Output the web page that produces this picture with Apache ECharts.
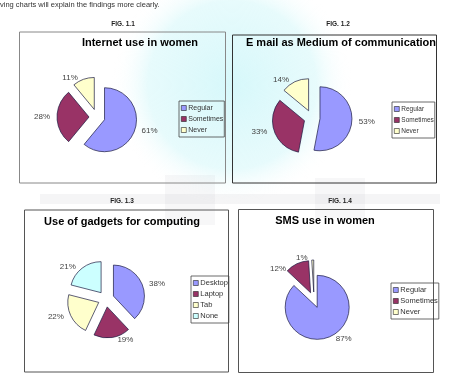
<!DOCTYPE html>
<html lang="en">
<head>
  <meta charset="UTF-8">
  <script src="https://cdn.jsdelivr.net/npm/echarts@6/dist/echarts.min.js"></script>
  <style>
    html, body { margin: 0; padding: 0; background: #fff; }
  </style>
</head>
<body>
  <div id="main" style="width: 476px;height:384px;"></div>
  <script type="text/javascript">

    // data (percent of respondents)
    const useNames = ['Regular', 'Sometimes', 'Never'];
    const internetValues = [61, 28, 11];
    const emailValues = [53, 33, 14];
    const smsValues = [87, 12, 1];
    const gadgetNames = ['Desktop', 'Laptop', 'Tab', 'None'];
    const gadgetValues = [38, 19, 22, 21];

    const titles = [
      'Internet use in women',
      'E mail as Medium of communication',
      'Use of gadgets for computing',
      'SMS use in women'
    ];
    const figLabels = ['FIG. 1.1', 'FIG. 1.2', 'FIG. 1.3', 'FIG. 1.4'];

    // old excel palette
    const colors = {
      Regular: '#9999ff', Sometimes: '#993366', Never: '#ffffcc',
      Desktop: '#9999ff', Laptop: '#993366', Tab: '#ffffcc', None: '#ccffff'
    };

    function toData(names, values) {
      return names.map(function (n, i) {
        return { name: n, value: values[i], selected: true, itemStyle: { color: colors[n] } };
      });
    }

    function pie(name, names, values, center, radius) {
      return {
        name: name,
        type: 'pie',
        center: center,
        radius: radius,
        startAngle: 90,
        clockwise: true,
        selectedMode: 'multiple',
        selectedOffset: 8,
        animation: false,
        emphasis: { disabled: true },
        itemStyle: { borderColor: '#1a1a40', borderWidth: 0.7 },
        label: {
          show: true,
          position: 'outside',
          formatter: '{c}%',
          color: '#444',
          fontSize: 8,
          fontFamily: 'Liberation Sans, Arial'
        },
        labelLine: { show: false, length: 2, length2: 0 },
        data: toData(names, values)
      };
    }

    function legend(names, left, top, fontSize) {
      return {
        data: names,
        orient: 'vertical',
        left: left,
        top: top,
        itemWidth: 5,
        itemHeight: 5,
        itemGap: 3,
        padding: [3, 1, 3, 2],
        borderColor: '#444',
        borderWidth: 0.8,
        selectedMode: false,
        icon: 'rect',
        itemStyle: { borderColor: '#222', borderWidth: 0.6 },
        textStyle: {
          fontSize: fontSize,
          lineHeight: 8,
          color: '#333',
          padding: [0, 0, 0, -3],
          fontFamily: 'Liberation Sans, Arial'
        }
      };
    }

    // boxes round each chart
    const boxes = [
      [19.5, 32, 206, 151, '#888'],
      [232.5, 35, 204, 148, '#333'],
      [24.5, 210, 204, 162, '#555'],
      [238.5, 209.5, 195, 163, '#555']
    ];
    const titlePos = [[140, 43], [341, 43], [122, 222], [325, 221]];
    const figPos = [[123, 24], [338, 24], [122, 201], [340, 201]];

    const graphics = [
      // faint watermark behind the page
      {
        type: 'ellipse', z: -10, silent: true,
        shape: { cx: 232, cy: 85, rx: 120, ry: 140 },
        style: {
          fill: new echarts.graphic.RadialGradient(0.5, 0.5, 0.5, [
            { offset: 0, color: 'rgba(210,247,250,0.9)' },
            { offset: 0.7, color: 'rgba(215,248,250,0.6)' },
            { offset: 1, color: 'rgba(255,255,255,0)' }
          ])
        }
      },
      { type: 'rect', z: -10, silent: true, shape: { x: 40, y: 194, width: 400, height: 10 },
        style: { fill: 'rgba(200,200,205,0.18)' } },
      { type: 'rect', z: -10, silent: true, shape: { x: 165, y: 175, width: 50, height: 50 },
        style: { fill: 'rgba(190,190,200,0.12)' } },
      { type: 'rect', z: -10, silent: true, shape: { x: 315, y: 178, width: 50, height: 40 },
        style: { fill: 'rgba(190,190,200,0.12)' } },
      {
        type: 'text', left: 0, top: 1,
        style: { text: 'ving charts will explain the findings more clearly.', fontSize: 7.5, fill: '#333', fontFamily: 'Liberation Sans, Arial' }
      }
    ];
    boxes.forEach(function (b) {
      graphics.push({
        type: 'rect', silent: true,
        shape: { x: b[0], y: b[1], width: b[2], height: b[3] },
        style: { fill: 'none', stroke: b[4], lineWidth: 1 }
      });
    });
    titles.forEach(function (t, i) {
      graphics.push({
        type: 'text', silent: true, x: titlePos[i][0], y: titlePos[i][1],
        style: { text: t, fontSize: 11, fontWeight: 'bold', fill: '#000', align: 'center', verticalAlign: 'middle', fontFamily: 'Liberation Sans, Arial' }
      });
    });
    figLabels.forEach(function (t, i) {
      graphics.push({
        type: 'text', silent: true, x: figPos[i][0], y: figPos[i][1],
        style: { text: t, fontSize: 6.5, fontWeight: 'bold', fill: '#222', align: 'center', verticalAlign: 'middle', fontFamily: 'Liberation Sans, Arial' }
      });
    });

    const myChart = echarts.init(document.getElementById('main'));
    myChart.setOption({
      animation: false,
      legend: [
        legend(useNames, 179, 101, 7),
        legend(useNames, 392, 102, 6.5),
        legend(gadgetNames, 191, 276, 7.5),
        legend(useNames, 391, 283, 7.5)
      ],
      graphic: graphics,
      series: [
        pie('Internet', useNames, internetValues, [97, 117], 32),
        pie('Email', useNames, emailValues, [312, 118], 32),
        pie('Gadgets', gadgetNames, gadgetValues, [106, 299], 31),
        pie('SMS', useNames, smsValues, [314, 300], 32)
      ]
    });

  </script>
</body>
</html>
